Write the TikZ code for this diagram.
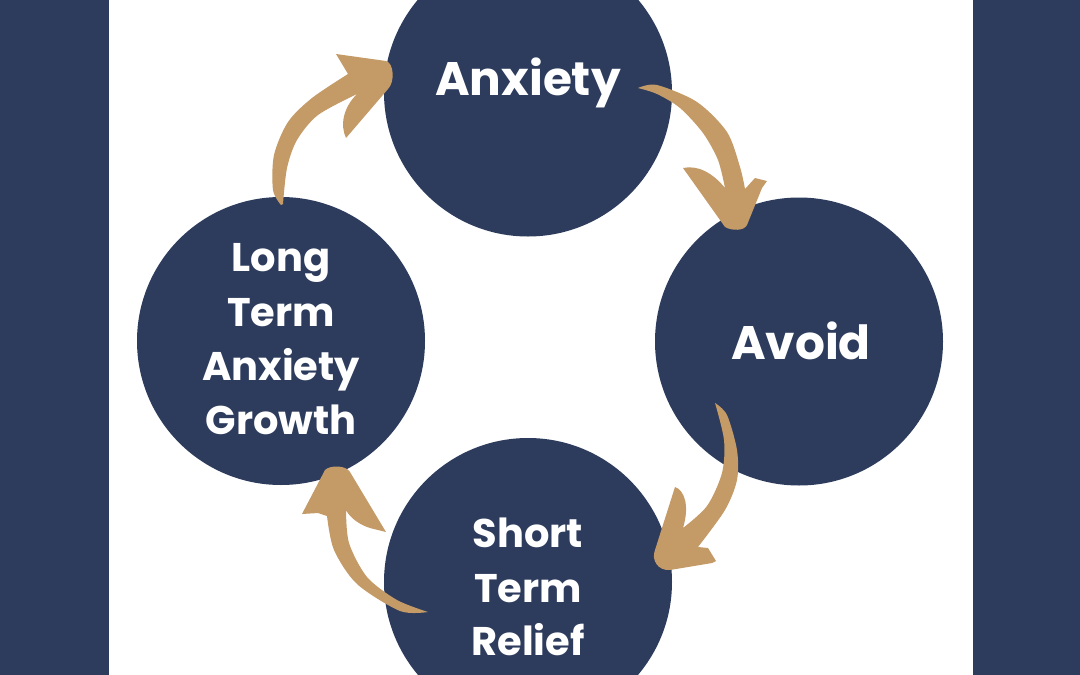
\documentclass[tikz,border=0pt]{standalone}
\usepackage{fontspec}
\setmainfont{Poppins}
\definecolor{navy}{HTML}{2D3C5D}
\definecolor{tan}{HTML}{C49A66}
\tikzset{
  bubble/.style={circle, fill=navy, minimum size=288pt, inner sep=0pt, draw=none},
  bigword/.style={text=white, font=\fontsize{47}{54}\selectfont\bfseries, anchor=base, inner sep=0pt},
  smallword/.style={text=white, font=\fontsize{40}{54}\selectfont\bfseries, anchor=base, inner sep=0pt},
  brush/.style={fill=tan, draw=none}
}
\begin{document}
\begin{tikzpicture}[x=1pt, y=-1pt]
\useasboundingbox (0,0) rectangle (1080,675);
\clip (0,0) rectangle (1080,675);
\fill[white] (0,0) rectangle (1080,675);
\fill[navy] (0,0) rectangle (109,675);
\fill[navy] (973,0) rectangle (1080,675);

\node[bubble] (anx) at (528,92.5) {};
\node[bubble] (avo) at (799,341.5) {};
\node[bubble] (rel) at (528,582) {};
\node[bubble] (lta) at (281,341) {};

\node[bigword] (tanx) at (528,95) {Anxiety};
\node[bigword] (tavo) at (801,359) {Avoid};

\node[smallword] (l1) at (281,271) {Long};
\node[smallword] (l2) at (281,326) {Term};
\node[smallword] (l3) at (281,380) {Anxiety};
\node[smallword] (l4) at (281,434) {Growth};

\node[smallword] (s1) at (528,547) {Short};
\node[smallword] (s2) at (528,602) {Term};
\node[smallword] (s3) at (528,655) {Relief};

% arrow: Long Term -> Anxiety
\fill[brush] plot[smooth] coordinates {(281,205) (273,190) (274,155) (288,122) (312,98) (348,74)}
  -- (336,54) -- (386,61)
  .. controls (394,63) and (395,82) .. (388,89)
  -- (346,138)
  .. controls (340,125) and (343,108) .. (357,94)
  -- plot[smooth] coordinates {(357,94) (318,115) (297,140) (287,168) (283,204)} -- cycle;

% arrow: Anxiety -> Avoid
\fill[brush] plot[smooth] coordinates {(638,88) (657,85) (697,102) (727,132) (740,167) (745,189)}
  -- (755,178) -- (767,181)
  -- (762,188) -- (747,225)
  .. controls (744,231) and (732,231) .. (725,227)
  -- (683,168)
  .. controls (697,165) and (712,172) .. (725,188)
  -- plot[smooth] coordinates {(725,188) (718,160) (703,133) (680,108) (657,94) (638,88)} -- cycle;

% arrow: Avoid -> Short Term Relief
\fill[brush] plot[smooth] coordinates {(715,403) (727,415) (737,450) (737,480) (725,510) (698,547)}
  -- (708,548) -- (716,561)
  -- (712,563) -- (670,570)
  .. controls (658,571) and (651,560) .. (655,550)
  -- (675,487)
  .. controls (684,490) and (690,505) .. (683,528)
  -- plot[smooth] coordinates {(683,528) (707,506) (722,473) (724,440) (715,403)} -- cycle;

% arrow: Short Term Relief -> Long Term
\fill[brush] plot[smooth] coordinates {(428,612) (400,611) (357,584) (334,550) (327,516)}
  -- (318,513) -- (302,514)
  -- (325,470)
  .. controls (330,465) and (346,465) .. (350,472)
  -- (386,532)
  -- (370,528)
  .. controls (360,525) and (350,518) .. (346,510)
  -- plot[smooth] coordinates {(346,510) (349,543) (367,577) (397,600) (428,612)} -- cycle;
\end{tikzpicture}
\end{document}
